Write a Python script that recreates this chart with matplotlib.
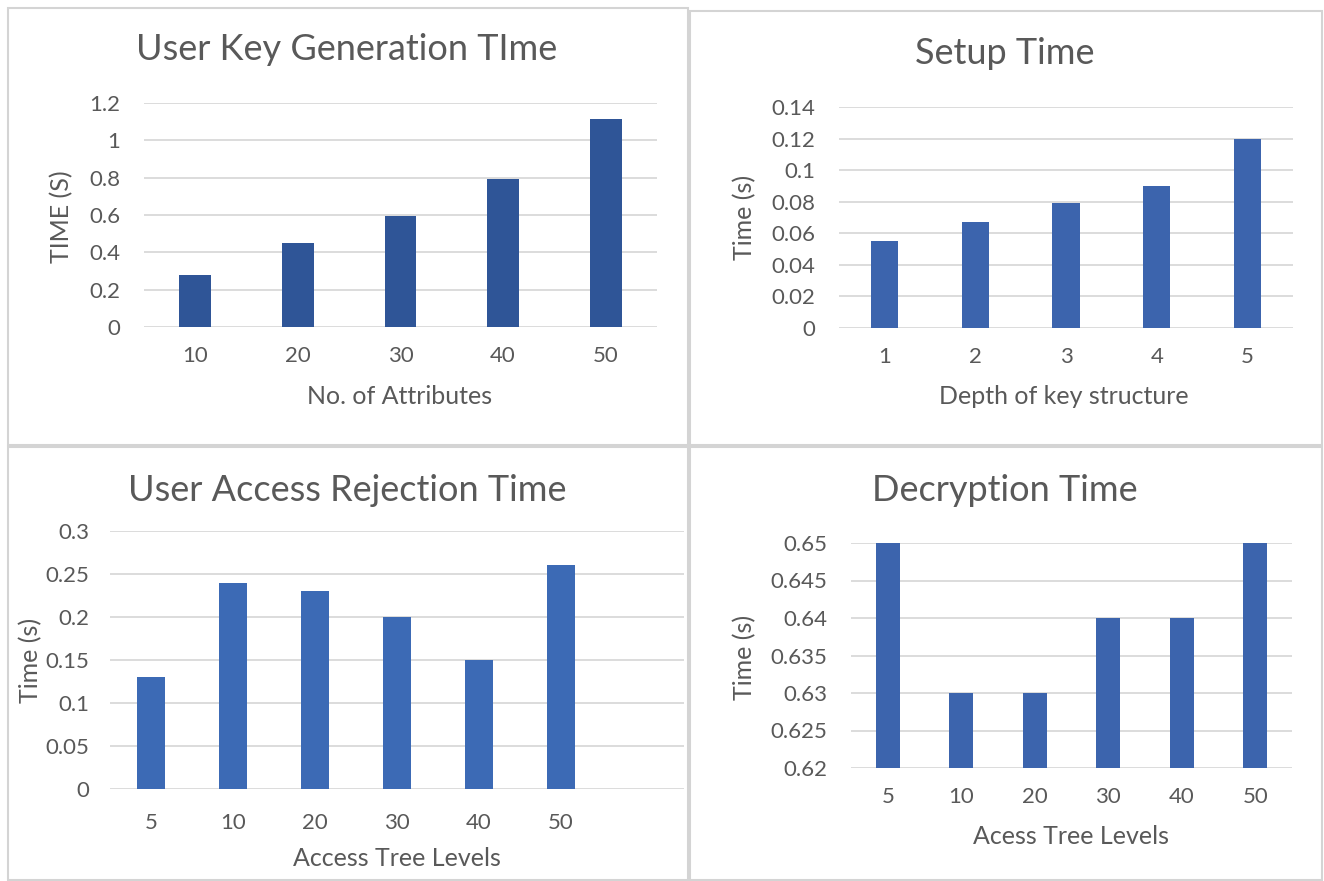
import matplotlib
matplotlib.use("Agg")
import matplotlib.pyplot as plt
from matplotlib.patches import Rectangle
from matplotlib.ticker import FuncFormatter

plt.rcParams['font.family'] = ['Lato', 'DejaVu Sans']

W, H = 1324, 881

# data
keygen_labels = ["10", "20", "30", "40", "50"]
keygen_time = [0.28, 0.45, 0.595, 0.795, 1.115]

setup_labels = ["1", "2", "3", "4", "5"]
setup_time = [0.055, 0.067, 0.079, 0.09, 0.12]

reject_labels = ["5", "10", "20", "30", "40", "50"]
reject_time = [0.13, 0.24, 0.23, 0.20, 0.15, 0.26]

decrypt_labels = ["5", "10", "20", "30", "40", "50"]
decrypt_time = [0.65, 0.63, 0.63, 0.64, 0.64, 0.65]

TXT = "#595959"
GRID = "#D9D9D9"
TITLE_FS = 26
LABEL_FS = 18
TICK_FS = 16


def px_axes(fig, x0, x1, y_top, y_bot):
    return fig.add_axes([x0 / W, 1 - y_bot / H, (x1 - x0) / W, (y_bot - y_top) / H])


def box(fig, x0, y0, x1, y1):
    fig.patches.append(Rectangle((x0 / W, 1 - y1 / H), (x1 - x0) / W, (y1 - y0) / H,
                                 transform=fig.transFigure, fill=False,
                                 edgecolor="#D4D4D4", lw=1.5))


def style(ax, ticks, ylim, ncat):
    ax.set_ylim(*ylim)
    ax.set_yticks(ticks)
    ax.yaxis.set_major_formatter(FuncFormatter(lambda v, p: "{:g}".format(round(v, 4))))
    ax.set_xlim(-0.5, ncat - 0.5)
    for s in ax.spines.values():
        s.set_visible(False)
    ax.grid(axis="y", color=GRID, lw=1.3)
    ax.set_axisbelow(True)
    ax.tick_params(axis="both", length=0, labelsize=TICK_FS, colors=TXT)
    ax.tick_params(axis="y", pad=17)
    ax.tick_params(axis="x", pad=14)


fig = plt.figure(figsize=(W / 100, H / 100), dpi=100)

box(fig, 8, 8, 688, 445)
box(fig, 690, 11, 1322, 445)
box(fig, 8, 447, 688, 880)
box(fig, 690, 447, 1322, 880)

# top left
ax = px_axes(fig, 144, 657, 103, 327)
ax.bar(range(len(keygen_time)), keygen_time, width=0.31, color="#2F5597")
ax.set_xticks(range(len(keygen_labels)), keygen_labels)
style(ax, [0, 0.2, 0.4, 0.6, 0.8, 1, 1.2], (0, 1.2), 5)
fig.text(347 / W, 1 - 50 / H, "User Key Generation TIme", ha="center", va="center", fontsize=TITLE_FS, color=TXT)
fig.text(62 / W, 1 - 217 / H, "TIME (S)", rotation=90, ha="center", va="center", fontsize=LABEL_FS, color=TXT)
fig.text(400 / W, 1 - 397 / H, "No. of Attributes", ha="center", va="center", fontsize=LABEL_FS, color=TXT)

# top right
ax = px_axes(fig, 839, 1293, 107, 328)
ax.bar(range(len(setup_time)), setup_time, width=0.30, color="#3C64AD")
ax.set_xticks(range(len(setup_labels)), setup_labels)
style(ax, [0, 0.02, 0.04, 0.06, 0.08, 0.1, 0.12, 0.14], (0, 0.14), 5)
fig.text(1005 / W, 1 - 53 / H, "Setup Time", ha="center", va="center", fontsize=TITLE_FS, color=TXT)
fig.text(745 / W, 1 - 217 / H, "Time (s)", rotation=90, ha="center", va="center", fontsize=LABEL_FS, color=TXT)
fig.text(1064 / W, 1 - 397 / H, "Depth of key structure", ha="center", va="center", fontsize=LABEL_FS, color=TXT)

# bottom left: seven category slots, last one empty
ax = px_axes(fig, 110, 684, 531, 789)
ax.bar(range(len(reject_time)), reject_time, width=0.34, color="#3C6AB5")
ax.set_xticks(range(len(reject_labels)), reject_labels)
style(ax, [0, 0.05, 0.1, 0.15, 0.2, 0.25, 0.3], (0, 0.3), 7)
ax.tick_params(axis="y", pad=15)
ax.tick_params(axis="x", pad=17)
fig.text(347 / W, 1 - 490 / H, "User Access Rejection Time", ha="center", va="center", fontsize=TITLE_FS, color=TXT)
fig.text(31 / W, 1 - 660 / H, "Time (s)", rotation=90, ha="center", va="center", fontsize=LABEL_FS, color=TXT)
fig.text(397 / W, 1 - 858 / H, "Access Tree Levels", ha="center", va="center", fontsize=LABEL_FS, color=TXT)

# bottom right
ax = px_axes(fig, 851, 1292, 543, 768)
ax.bar(range(len(decrypt_time)), decrypt_time, width=0.33, color="#3C64AD")
ax.set_xticks(range(len(decrypt_labels)), decrypt_labels)
style(ax, [0.62, 0.625, 0.63, 0.635, 0.64, 0.645, 0.65], (0.62, 0.65), 6)
fig.text(1005 / W, 1 - 490 / H, "Decryption Time", ha="center", va="center", fontsize=TITLE_FS, color=TXT)
fig.text(745 / W, 1 - 657 / H, "Time (s)", rotation=90, ha="center", va="center", fontsize=LABEL_FS, color=TXT)
fig.text(1071 / W, 1 - 837 / H, "Acess Tree Levels", ha="center", va="center", fontsize=LABEL_FS, color=TXT)

fig.savefig("out.png", dpi=100)
